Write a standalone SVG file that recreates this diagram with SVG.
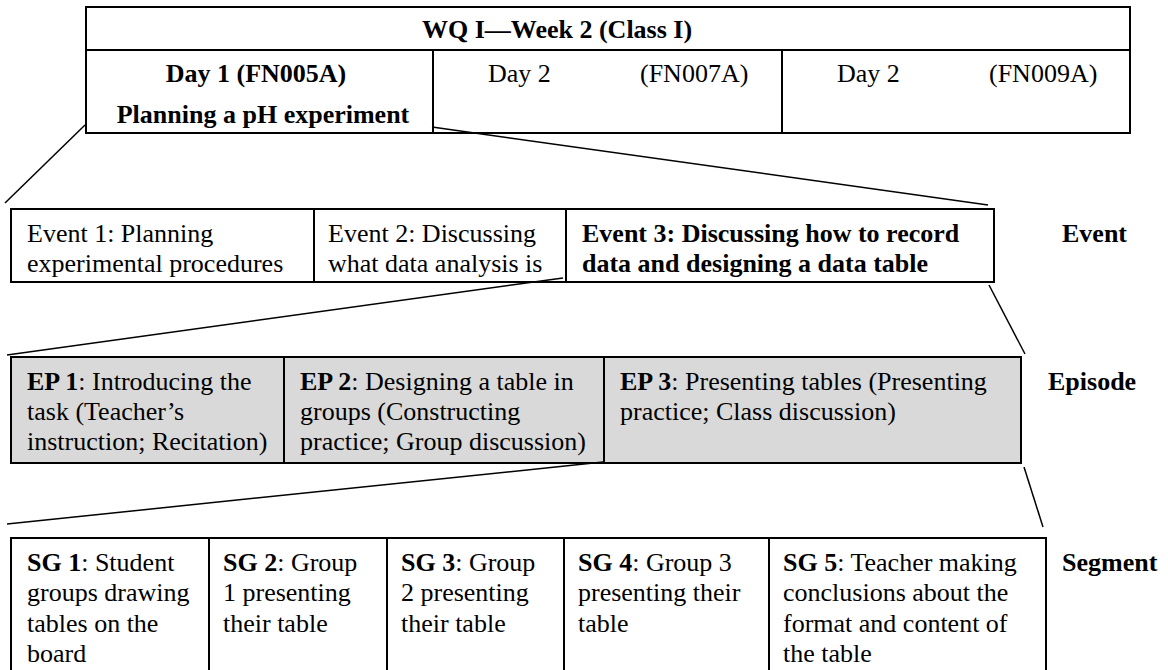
<svg xmlns="http://www.w3.org/2000/svg" width="1168" height="670" viewBox="0 0 1168 670">
<style>
.t{font-family:"Liberation Serif","Times New Roman",serif;font-size:26px;fill:#000}
.b{font-weight:bold}
.m{text-anchor:middle}
.box{fill:#fff;stroke:#000;stroke-width:2}
.grey{fill:#d9d9d9}
.div{stroke:#000;stroke-width:2}
.conn{stroke:#000;stroke-width:1.5;fill:none}
</style>
<rect width="1168" height="670" fill="#fff"/>
<g id="week">
<rect class="box" x="86" y="7" width="1044" height="126"/>
<line class="div" x1="86" y1="50" x2="1130" y2="50"/>
<line class="div" x1="433" y1="50" x2="433" y2="133"/>
<line class="div" x1="782" y1="50" x2="782" y2="133"/>
<text class="t b" x="422" y="38">WQ I—Week 2 (Class I)</text>
<text class="t b m" x="256" y="82">Day 1 (FN005A)</text>
<text class="t b m" x="263" y="123">Planning a pH experiment</text>
<text class="t" x="488" y="82">Day 2</text>
<text class="t" x="640" y="82">(FN007A)</text>
<text class="t" x="837" y="82">Day 2</text>
<text class="t" x="989" y="82">(FN009A)</text>
</g>
<g id="event-row">
<rect class="box" x="11" y="209" width="983" height="73"/>
<line class="div" x1="314" y1="209" x2="314" y2="282"/>
<line class="div" x1="566" y1="209" x2="566" y2="282"/>
<g id="event1"><text class="t" x="27" y="242">Event 1: Planning</text><text class="t" x="27" y="272">experimental procedures</text></g>
<g id="event2"><text class="t" x="328" y="242">Event 2: Discussing</text><text class="t" x="328" y="272">what data analysis is</text></g>
<g id="event3"><text class="t b" x="582" y="242">Event 3: Discussing how to record</text><text class="t b" x="582" y="272">data and designing a data table</text></g>
</g>
<g id="episode-row">
<rect class="box grey" x="11" y="357" width="1010" height="106"/>
<line class="div" x1="284" y1="357" x2="284" y2="463"/>
<line class="div" x1="604" y1="357" x2="604" y2="463"/>
<g id="ep1"><text class="t" x="27" y="390"><tspan class="b">EP 1</tspan>: Introducing the</text><text class="t" x="27" y="420">task (Teacher’s</text><text class="t" x="27" y="450">instruction; Recitation)</text></g>
<g id="ep2"><text class="t" x="300" y="390"><tspan class="b">EP 2</tspan>: Designing a table in</text><text class="t" x="300" y="420">groups (Constructing</text><text class="t" x="300" y="450">practice; Group discussion)</text></g>
<g id="ep3"><text class="t" x="620" y="390"><tspan class="b">EP 3</tspan>: Presenting tables (Presenting</text><text class="t" x="620" y="420">practice; Class discussion)</text></g>
</g>
<g id="segment-row">
<rect class="box" x="11" y="538" width="1035" height="150"/>
<line class="div" x1="209" y1="538" x2="209" y2="670"/>
<line class="div" x1="387" y1="538" x2="387" y2="670"/>
<line class="div" x1="564" y1="538" x2="564" y2="670"/>
<line class="div" x1="769" y1="538" x2="769" y2="670"/>
<g id="sg1"><text class="t" x="27" y="571"><tspan class="b">SG 1</tspan>: Student</text><text class="t" x="27" y="601">groups drawing</text><text class="t" x="27" y="632">tables on the</text><text class="t" x="27" y="662">board</text></g>
<g id="sg2"><text class="t" x="223" y="571"><tspan class="b">SG 2</tspan>: Group</text><text class="t" x="223" y="601">1 presenting</text><text class="t" x="223" y="632">their table</text></g>
<g id="sg3"><text class="t" x="401" y="571"><tspan class="b">SG 3</tspan>: Group</text><text class="t" x="401" y="601">2 presenting</text><text class="t" x="401" y="632">their table</text></g>
<g id="sg4"><text class="t" x="578" y="571"><tspan class="b">SG 4</tspan>: Group 3</text><text class="t" x="578" y="601">presenting their</text><text class="t" x="578" y="632">table</text></g>
<g id="sg5"><text class="t" x="783" y="571"><tspan class="b">SG 5</tspan>: Teacher making</text><text class="t" x="783" y="601">conclusions about the</text><text class="t" x="783" y="632">format and content of</text><text class="t" x="783" y="662">the table</text></g>
</g>
<g id="labels">
<text class="t b" x="1062" y="242">Event</text>
<text class="t b" x="1048" y="390">Episode</text>
<text class="t b" x="1062" y="571">Segment</text>
</g>
<g id="connectors">
<line class="conn" x1="85" y1="125" x2="5" y2="203"/>
<line class="conn" x1="432" y1="127" x2="988" y2="205"/>
<line class="conn" x1="563" y1="278" x2="7" y2="355"/>
<line class="conn" x1="989" y1="285" x2="1025" y2="354"/>
<line class="conn" x1="603" y1="462" x2="7" y2="524"/>
<line class="conn" x1="1024" y1="467" x2="1043" y2="527"/>
</g>
</svg>
